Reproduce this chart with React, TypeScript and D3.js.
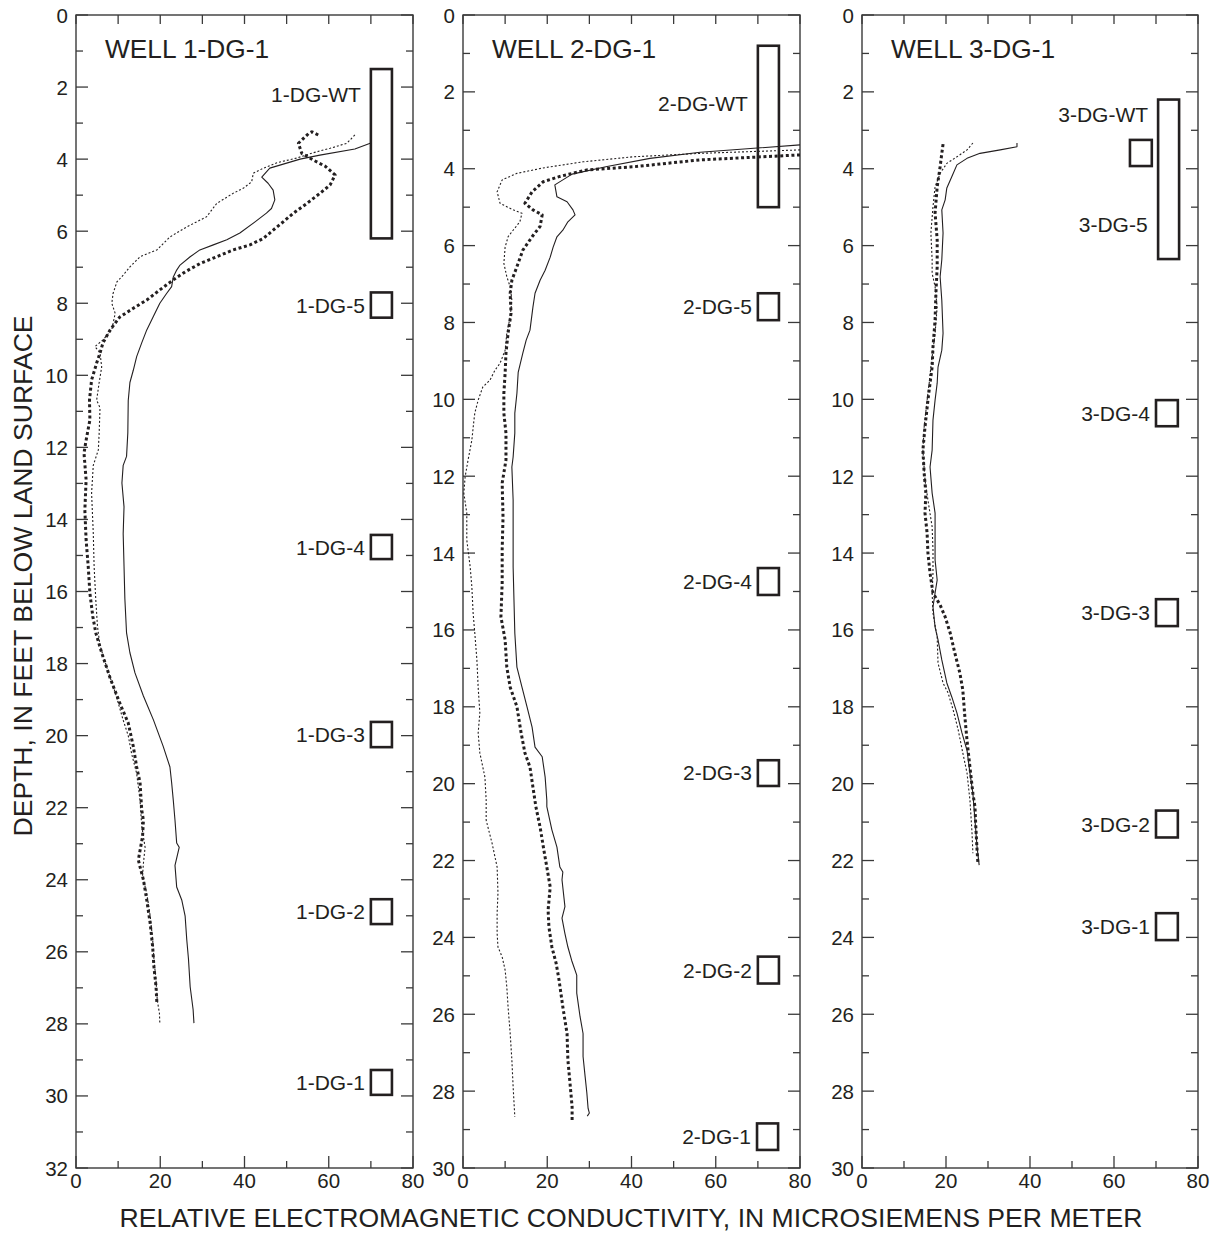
import React from 'react';
import * as d3 from 'd3';

type Pt = [number, number]; // [conductivity, depth]

const wellTitles = ['WELL 1-DG-1', 'WELL 2-DG-1', 'WELL 3-DG-1'];
const maxDepths = [32, 30, 30];
const xTickValues = [0, 10, 20, 30, 40, 50, 60, 70, 80];
const xTickLabels = ['0', '20', '40', '60', '80'];
const xTitle = 'RELATIVE ELECTROMAGNETIC CONDUCTIVITY, IN MICROSIEMENS PER METER';
const yTitle = 'DEPTH, IN FEET BELOW LAND SURFACE';

// Well 1-DG-1
const w1Solid: Pt[] = [[70,3.55],[66.2,3.72],[57.9,3.89],[53.2,4.0],[46,4.25],[44.1,4.5],[45.6,4.67],[46.8,4.86],[47.2,5.13],[46.4,5.37],[45.2,5.5],[42.5,5.74],[38.9,6.05],[35.8,6.24],[32.6,6.38],[29.4,6.52],[27.1,6.71],[24.7,6.94],[23.9,7.08],[23.1,7.27],[22.7,7.54],[21.5,7.73],[19.9,8.0],[18.3,8.38],[16.8,8.74],[15.6,9.1],[14.4,9.48],[13.6,9.86],[12.8,10.2],[12.4,10.7],[12.3,11.6],[12.0,12.25],[11.2,12.5],[10.9,12.99],[11.4,13.65],[11.2,14.4],[11.4,15.3],[11.6,16.2],[12.0,17.15],[12.8,17.7],[14.0,18.26],[16,18.9],[18.4,19.57],[20.7,20.3],[22.3,20.87],[22.7,21.3],[23.1,21.8],[23.5,22.35],[23.9,22.98],[24.5,23.1],[23.5,23.6],[23.9,24.2],[25.1,24.56],[25.9,25.0],[26.3,25.67],[26.7,26.2],[27.1,26.97],[27.8,27.6],[28.0,27.98]];
const w1Thick: Pt[] = [[57.5,3.33],[56,3.24],[55.2,3.29],[52.8,3.56],[53.6,3.84],[56.4,4.03],[59.2,4.2],[61.5,4.44],[60.3,4.72],[57.9,4.95],[54.8,5.23],[51.6,5.5],[49.2,5.74],[46.8,5.97],[44.5,6.2],[41.3,6.38],[37.3,6.52],[33.4,6.71],[29.4,6.9],[25.9,7.13],[23.1,7.35],[19.9,7.63],[16.8,7.91],[13.6,8.14],[10.4,8.38],[8.1,8.74],[6.4,9.1],[5.7,9.38],[4.9,9.66],[3.7,10.13],[3.2,10.69],[3.3,11.24],[2.4,11.8],[1.9,12.16],[2.4,12.9],[2.1,13.74],[2.4,14.57],[2.9,15.3],[3.3,16.05],[4.0,16.7],[4.7,17.15],[6.1,17.7],[8.1,18.4],[10.4,19.1],[12.4,19.65],[13.6,20.3],[14.4,20.87],[15.2,21.3],[15.6,22.06],[16,22.35],[15.8,22.8],[14.8,23.45],[15.2,23.64],[16.0,24.0],[16.8,24.56],[17.6,25.2],[18.2,25.86],[18.5,26.42],[19.0,26.97],[19.2,27.42]];
const w1Thin: Pt[] = [[66.2,3.33],[64.3,3.56],[60.3,3.7],[56.4,3.82],[52.4,3.97],[47.7,4.1],[44.5,4.25],[42.1,4.39],[41.7,4.63],[39.8,4.8],[37.3,4.95],[33.4,5.23],[31.0,5.6],[26.3,5.88],[22.3,6.16],[19.2,6.52],[15.2,6.71],[12.8,6.99],[11.2,7.22],[9.7,7.41],[8.8,7.73],[8.5,8.0],[9.3,8.28],[8.5,8.74],[6.4,9.02],[4.5,9.2],[5.7,9.38],[6.1,9.77],[5.5,10.2],[4.9,10.69],[5.7,10.9],[5.5,11.6],[5.3,12.07],[4.1,12.5],[3.7,13.27],[4.1,14.38],[4.3,15.3],[4.7,16.24],[5.1,16.97],[5.7,17.5],[7.3,18.1],[9.3,18.8],[11.2,19.57],[12.4,20.0],[13.2,20.5],[14.4,21.05],[15.2,21.8],[15.6,22.5],[16.4,23.1],[16.0,23.55],[15.8,23.9],[16.8,24.38],[17.6,25.0],[18.2,25.66],[18.5,26.2],[19.0,26.8],[19.3,27.35],[19.8,27.7],[19.9,27.98]];

// Well 2-DG-1
const w2Solid: Pt[] = [[80,3.38],[56.3,3.57],[44.4,3.73],[34.2,3.94],[25.9,4.14],[21.8,4.42],[22.3,4.73],[24.7,4.86],[26.1,5.07],[26.6,5.2],[24.9,5.38],[23.7,5.6],[22.3,5.77],[21.4,6.04],[20.7,6.3],[19.5,6.64],[18.3,6.9],[17.1,7.24],[16.6,7.6],[15.9,8.2],[15.0,8.46],[14.2,8.8],[13.1,9.3],[12.8,9.84],[12.3,10.36],[12.3,10.88],[11.9,11.5],[11.6,11.76],[11.9,12.62],[11.9,13.48],[11.9,14.36],[12.1,15.22],[12.3,16.08],[12.8,16.97],[14.0,17.49],[15.2,18.0],[16.4,18.53],[17.1,19.05],[18.8,19.3],[19.5,19.83],[19.9,20.43],[19.9,20.6],[21.1,21.2],[22.3,21.65],[23.0,22.17],[23.7,22.3],[23.5,22.5],[24.2,23.2],[23.5,23.5],[24.2,23.9],[24.9,24.25],[25.8,24.6],[27.0,24.98],[27.0,25.45],[27.8,26.07],[28.5,26.5],[28.5,27.1],[29.0,27.63],[29.4,28.05],[29.7,28.45],[30,28.57],[29.5,28.65]];
const w2Thick: Pt[] = [[80,3.64],[56.3,3.77],[40.4,3.95],[29.4,4.03],[23,4.2],[19.0,4.34],[16.4,4.6],[14.7,4.9],[16.6,5.07],[18.8,5.2],[18.3,5.5],[16.4,5.77],[14.2,6.12],[12.8,6.55],[11.6,6.9],[11.2,7.24],[11.4,7.76],[10.7,8.28],[10.2,8.8],[10.0,9.32],[9.7,9.84],[9.7,10.36],[10.2,10.88],[10.2,11.58],[9.3,12.18],[9.5,13.06],[9.3,13.92],[9.3,14.78],[9.0,15.66],[10.0,16.26],[10.4,16.97],[11.2,17.49],[12.8,18.0],[13.8,18.68],[14.7,19.2],[15.9,19.57],[16.6,20.09],[17.3,20.6],[18.3,21.13],[19.2,21.73],[19.9,22.17],[20.7,22.69],[20.2,23.29],[20.4,23.73],[21.1,24.25],[22.1,24.67],[22.8,25.11],[23.7,25.81],[24.7,26.5],[24.9,27.19],[25.4,27.79],[25.9,28.41],[25.9,28.81]];
const w2Thin: Pt[] = [[80,3.51],[56.3,3.6],[40.4,3.69],[28.5,3.82],[19.0,3.98],[12.8,4.12],[9.3,4.29],[8.1,4.6],[8.8,4.9],[11.9,5.07],[14.0,5.16],[13.5,5.38],[11.9,5.6],[10.7,5.77],[10.0,6.04],[9.7,6.46],[10.4,6.81],[11.2,7.07],[11.6,7.42],[11.2,7.86],[10.4,8.28],[10.0,8.72],[8.8,9.06],[7.6,9.24],[6.4,9.5],[4.7,9.68],[3.6,10.02],[2.8,10.36],[2.6,10.54],[2.1,11.06],[1.2,11.58],[0.5,12.02],[0.2,12.44],[0.9,12.96],[0.9,13.66],[1.7,14.36],[2.1,14.88],[2.4,15.56],[2.8,16.08],[3.3,16.78],[3.6,17.49],[4.0,18.16],[3.6,18.68],[4.0,19.2],[5.2,19.83],[5.5,20.43],[5.5,20.95],[6.9,21.55],[8.1,22.17],[8.3,22.85],[8.1,23.37],[8.1,23.89],[8.3,24.25],[9.3,24.51],[10.0,24.85],[10.4,25.29],[10.7,25.81],[11.2,26.5],[11.6,27.19],[11.9,27.89],[12.3,28.67]];

// Well 3-DG-1
const w3Solid: Pt[] = [[36.9,3.33],[36.9,3.43],[32.9,3.51],[28.1,3.6],[25.0,3.73],[22.6,3.9],[21.4,4.2],[20.2,4.5],[19.8,4.81],[19.0,5.07],[19.3,5.67],[19.0,6.37],[18.6,6.81],[19.0,7.42],[19.3,8.28],[19.0,8.72],[18.1,9.16],[17.9,9.58],[17.4,10.02],[16.9,10.54],[16.7,11.32],[16.2,11.76],[16.7,12.44],[17.4,12.96],[17.4,13.48],[17.4,14.18],[17.9,14.7],[17.4,15.04],[16.9,15.4],[17.4,15.93],[18.1,16.26],[19.0,16.78],[20.2,17.38],[21.4,17.75],[22.6,18.16],[23.8,18.68],[25.0,19.13],[25.7,19.72],[26.4,20.25],[26.9,20.95],[27.4,21.65],[27.9,22.12]];
const w3Thick: Pt[] = [[19.3,3.36],[19.0,3.6],[18.6,3.95],[17.9,4.47],[17.4,5.15],[17.9,5.85],[17.9,6.56],[17.6,7.23],[17.4,7.94],[16.9,8.64],[16.7,9.16],[16.2,9.58],[15.7,10.02],[15.0,10.72],[14.5,11.32],[14.8,11.92],[15.2,12.44],[15.0,12.96],[15.5,13.48],[15.7,14.0],[16.2,14.52],[16.9,15.04],[18.6,15.35],[19.8,15.66],[21.0,16.08],[22.1,16.6],[23.3,17.12],[24.0,17.56],[24.5,18.27],[25.0,18.87],[25.7,19.57],[26.4,20.25],[26.9,20.6],[27.1,21.13],[27.4,21.73],[27.6,22.07]];
const w3Thin: Pt[] = [[26.4,3.33],[25.0,3.51],[22.6,3.69],[20.2,3.86],[18.6,4.12],[17.4,4.47],[16.9,4.99],[16.4,5.67],[16.7,6.37],[16.7,6.72],[17.4,7.07],[17.9,7.6],[17.4,8.28],[16.9,8.72],[16.4,9.16],[16.0,9.58],[15.5,10.02],[14.8,10.72],[14.5,11.32],[15.0,12.1],[15.7,12.62],[16.7,13.32],[16.9,13.92],[16.9,14.52],[16.7,15.04],[16.9,15.56],[17.9,16.19],[18.1,16.86],[19.3,17.38],[20.5,17.64],[21.7,18.08],[22.9,18.6],[24.0,19.2],[25.0,19.72],[25.7,20.43],[26.2,21.29],[26.4,21.81]];

// Sampler boxes: [label, x0, x1, depthTop, depthBottom, labelDepth]
type Box = [string, number, number, number, number, number];
const w1Boxes: Box[] = [
  ['1-DG-WT', 70, 75, 1.5, 6.2, 2.2],
  ['1-DG-5', 70, 75, 7.7, 8.4, 8.05],
  ['1-DG-4', 70, 75, 14.43, 15.1, 14.77],
  ['1-DG-3', 70, 75, 19.62, 20.32, 19.97],
  ['1-DG-2', 70, 75, 24.54, 25.23, 24.88],
  ['1-DG-1', 70, 75, 29.28, 29.97, 29.62],
];
const w2Boxes: Box[] = [
  ['2-DG-WT', 70, 75, 0.8, 5.0, 2.3],
  ['2-DG-5', 70, 75, 7.24, 7.94, 7.59],
  ['2-DG-4', 70, 75, 14.39, 15.09, 14.74],
  ['2-DG-3', 70, 75, 19.39, 20.06, 19.72],
  ['2-DG-2', 70, 75, 24.5, 25.2, 24.85],
  ['2-DG-1', 69.8, 74.8, 28.84, 29.53, 29.18],
];
const w3Boxes: Box[] = [
  ['3-DG-WT', 70.5, 75.5, 2.2, 6.35, 2.6],
  ['', 63.8, 69, 3.25, 3.93, 3.6],
  ['3-DG-4', 70, 75.2, 10.02, 10.7, 10.36],
  ['3-DG-3', 70, 75.2, 15.2, 15.9, 15.55],
  ['3-DG-2', 70, 75.2, 20.7, 21.4, 21.05],
  ['3-DG-1', 70, 75.2, 23.37, 24.07, 23.72],
];
// free-standing label without its own box: [label, rightX (conductivity), depth]
const w3ExtraLabels: [string, number, number][] = [['3-DG-5', 68, 5.44]];

const seriesByWell: Pt[][][] = [
  [w1Solid, w1Thick, w1Thin],
  [w2Solid, w2Thick, w2Thin],
  [w3Solid, w3Thick, w3Thin],
];
const boxesByWell = [w1Boxes, w2Boxes, w3Boxes];
const extraByWell = [[], [], w3ExtraLabels];

// layout
const panelLeft = [76, 463, 862];
const panelRight = [413, 800, 1198];
const TOP = 15;
const BOTTOM = 1168;
const FONT = "'Liberation Sans', Arial, Helvetica, sans-serif";
const INK = '#231f20';
const AXIS = '#3a3a3a';
const TICK_FS = 20.5;
const LABEL_FS = 21;

const lineStyles = [
  { width: 1.1, dash: undefined as string | undefined },
  { width: 3, dash: '3,2.6' },
  { width: 1.1, dash: '2,2' },
];

function Panel({ i }: { i: number }) {
  const x = d3.scaleLinear().domain([0, 80]).range([panelLeft[i], panelRight[i]]);
  const y = d3.scaleLinear().domain([0, maxDepths[i]]).range([TOP, BOTTOM]);
  const line = d3
    .line<Pt>()
    .x((d) => x(d[0]))
    .y((d) => y(d[1]));
  const depthTicks = d3.range(0, maxDepths[i] + 1, 1);
  const clipId = `clip${i}`;
  return (
    <g>
      <defs>
        <clipPath id={clipId}>
          <rect x={x(0)} y={y(0)} width={x(80) - x(0)} height={y(maxDepths[i]) - y(0)} />
        </clipPath>
      </defs>
      <rect
        x={x(0)}
        y={y(0)}
        width={x(80) - x(0)}
        height={y(maxDepths[i]) - y(0)}
        fill="none"
        stroke={AXIS}
        strokeWidth={1.4}
      />
      {xTickValues.map((v) => {
        const major = v % 20 === 0;
        const lenB = major ? 12 : 7;
        return (
          <g key={'xt' + v}>
            <line x1={x(v)} x2={x(v)} y1={y(0)} y2={y(0) + 9} stroke={AXIS} strokeWidth={1.3} />
            <line
              x1={x(v)}
              x2={x(v)}
              y1={y(maxDepths[i])}
              y2={y(maxDepths[i]) - lenB}
              stroke={AXIS}
              strokeWidth={1.3}
            />
          </g>
        );
      })}
      {xTickLabels.map((t) => (
        <text
          key={'xl' + t}
          x={x(+t)}
          y={BOTTOM + 20}
          textAnchor="middle"
          fontSize={TICK_FS}
          fontFamily={FONT}
          fill={INK}
        >
          {t}
        </text>
      ))}
      {depthTicks.map((d) => {
        const major = d % 2 === 0;
        const len = major ? 12 : 7;
        return (
          <g key={'yt' + d}>
            <line x1={x(0)} x2={x(0) + len} y1={y(d)} y2={y(d)} stroke={AXIS} strokeWidth={1.3} />
            <line x1={x(80)} x2={x(80) - len} y1={y(d)} y2={y(d)} stroke={AXIS} strokeWidth={1.3} />
            {major && (
              <text
                x={x(0) - 8}
                y={y(d)}
                textAnchor="end"
                dominantBaseline="central"
                fontSize={TICK_FS}
                fontFamily={FONT}
                fill={INK}
              >
                {d}
              </text>
            )}
          </g>
        );
      })}
      <text x={x(0) + 29} y={58} fontSize={26.3} fontFamily={FONT} fill={INK}>
        {wellTitles[i]}
      </text>
      {boxesByWell[i].map((b, k) => (
        <g key={'b' + k}>
          <rect
            x={x(b[1])}
            y={y(b[3])}
            width={x(b[2]) - x(b[1])}
            height={y(b[4]) - y(b[3])}
            fill="none"
            stroke={INK}
            strokeWidth={2.6}
          />
          {b[0] && (
            <text
              x={x(b[1]) - (b[4] - b[3] > 2 ? 10 : 6)}
              y={y(b[5])}
              textAnchor="end"
              dominantBaseline="central"
              fontSize={LABEL_FS}
              fontFamily={FONT}
              fill={INK}
            >
              {b[0]}
            </text>
          )}
        </g>
      ))}
      {extraByWell[i].map((e, k) => (
        <text
          key={'e' + k}
          x={x(e[1])}
          y={y(e[2])}
          textAnchor="end"
          dominantBaseline="central"
          fontSize={LABEL_FS}
          fontFamily={FONT}
          fill={INK}
        >
          {e[0]}
        </text>
      ))}
      <g clipPath={`url(#${clipId})`}>
        {seriesByWell[i].map((s, k) => (
          <path
            key={'s' + k}
            d={line(s) || ''}
            fill="none"
            stroke={INK}
            strokeWidth={lineStyles[k].width}
            strokeDasharray={lineStyles[k].dash}
            strokeLinejoin="round"
          />
        ))}
      </g>
    </g>
  );
}

export default function App() {
  return (
    <svg
      width={1223}
      height={1236}
      viewBox="0 0 1223 1236"
      style={{ position: 'absolute', left: 0, top: 0, background: '#fff' }}
    >
      <rect x={0} y={0} width={1223} height={1236} fill="#fff" />
      {[0, 1, 2].map((i) => (
        <Panel key={i} i={i} />
      ))}
      <text x={631} y={1227} textAnchor="middle" fontSize={26.6} fontFamily={FONT} fill={INK}>
        {xTitle}
      </text>
      <text
        transform={`translate(32,576) rotate(-90)`}
        textAnchor="middle"
        fontSize={26.6}
        fontFamily={FONT}
        fill={INK}
      >
        {yTitle}
      </text>
    </svg>
  );
}
